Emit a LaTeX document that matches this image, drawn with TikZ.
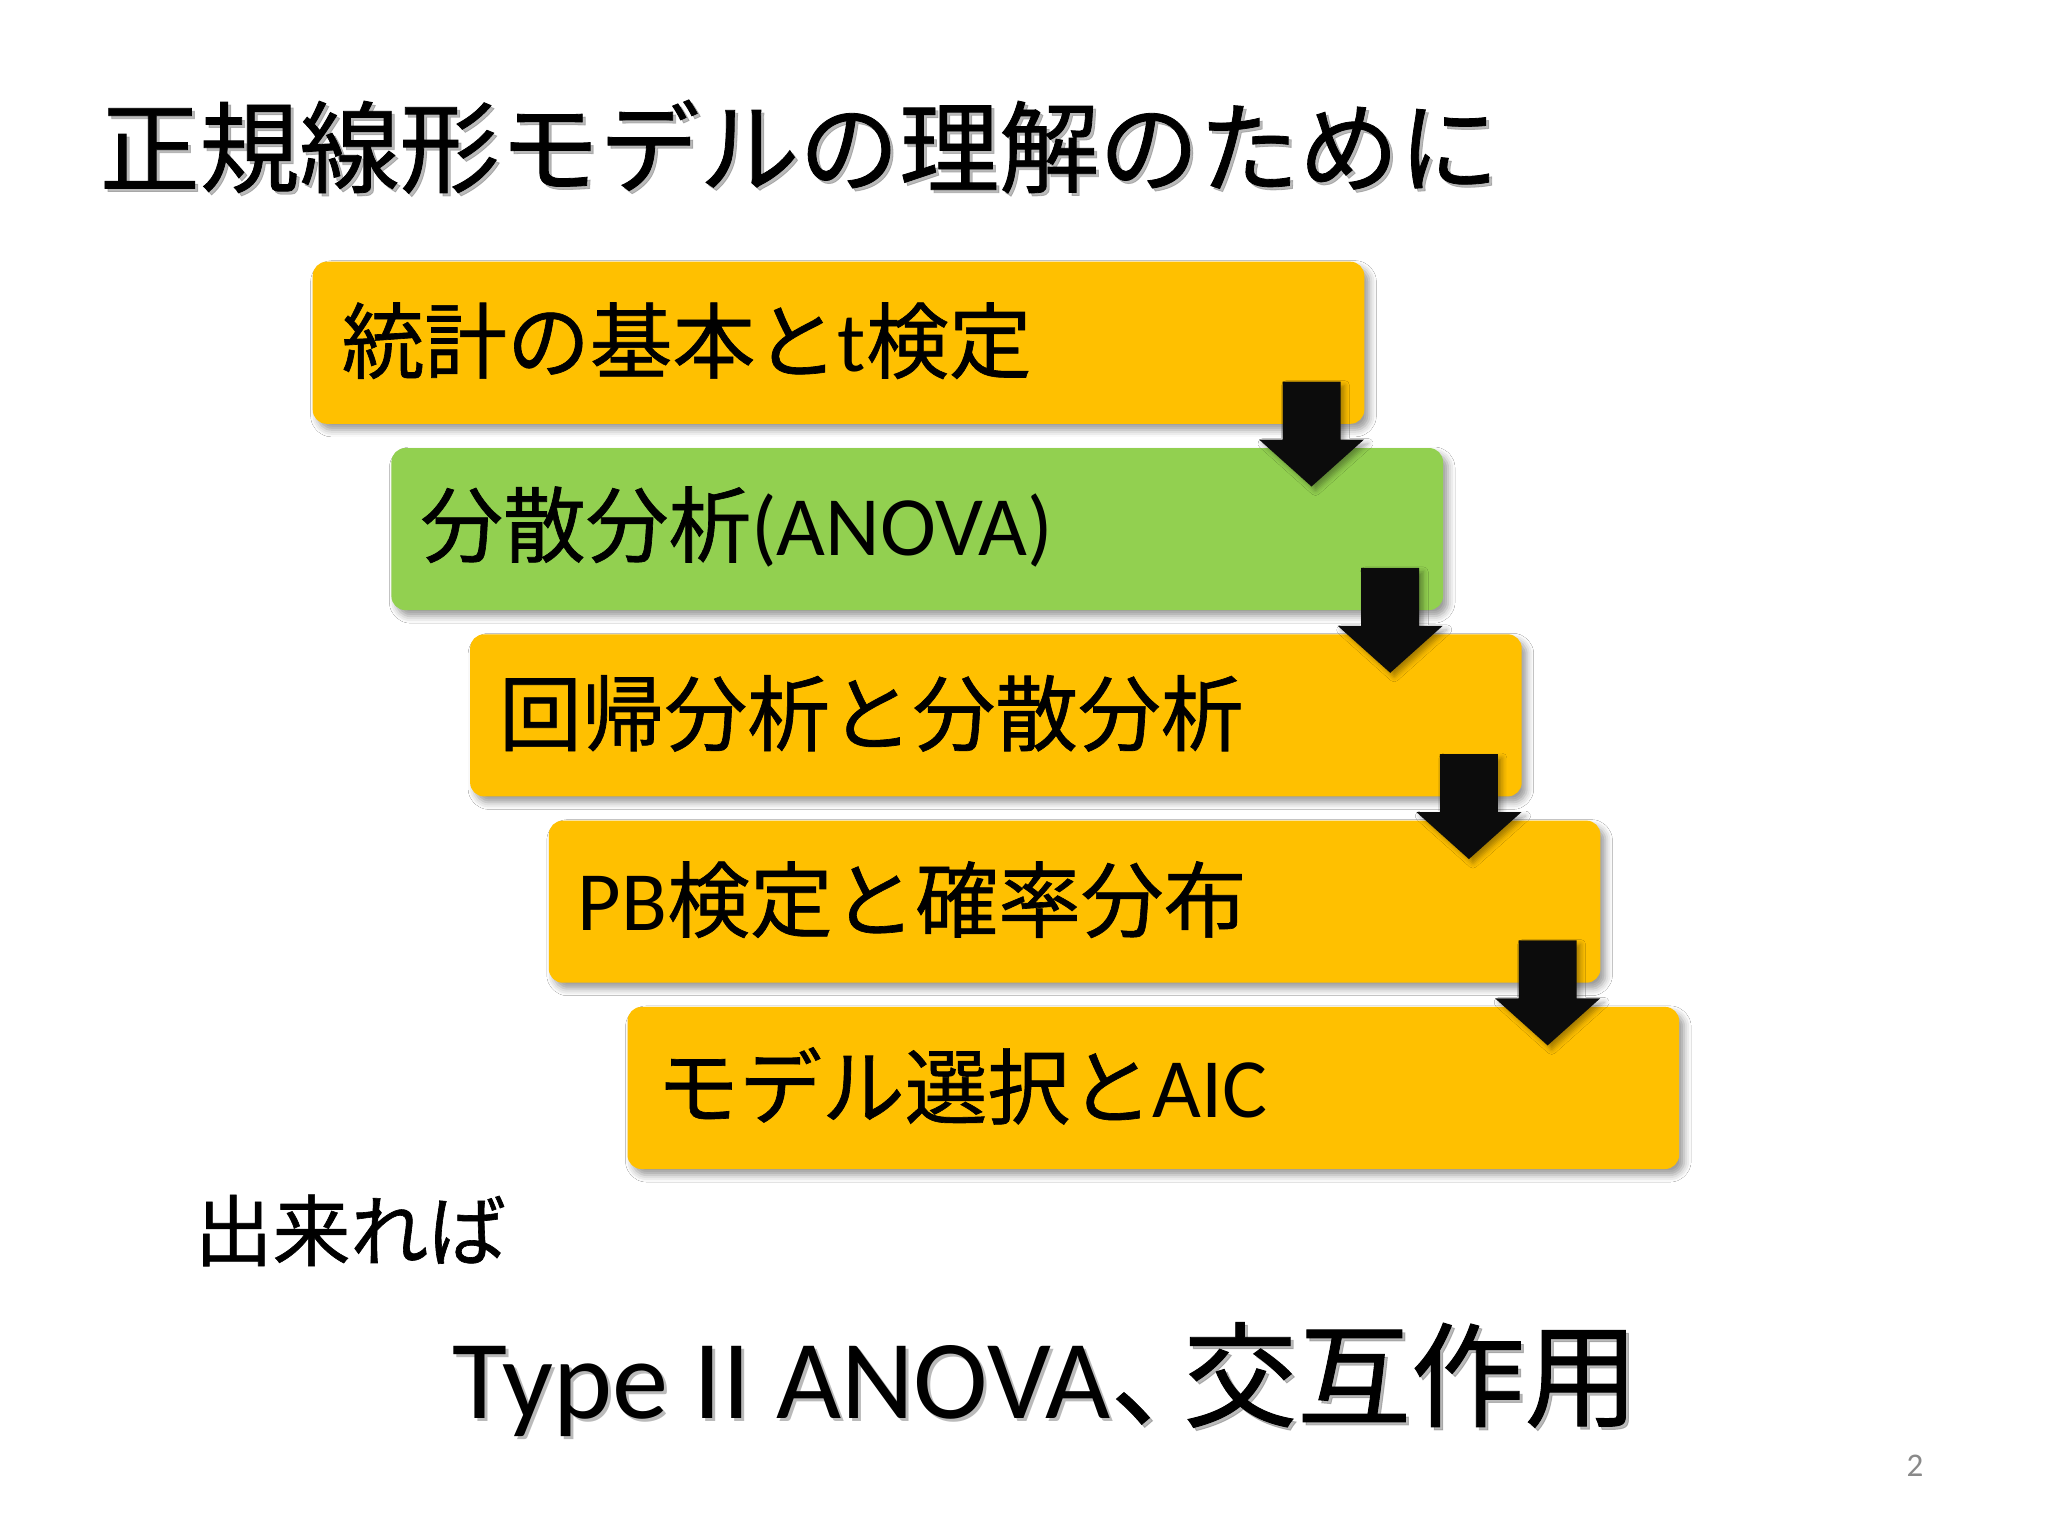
\documentclass[tikz,border=0pt]{standalone}
\usepackage{fontspec}
\setmainfont{Carlito}
\newfontfamily\jp{Noto Sans CJK JP}[FakeBold=0.8, Scale=0.98]
\usetikzlibrary{shadows.blur,calc}
\definecolor{boxorange}{HTML}{FFC000}
\definecolor{boxgreen}{HTML}{92D050}
\definecolor{arrowblack}{HTML}{0C0C0C}
\definecolor{pagegray}{HTML}{898989}
\tikzset{
  stepbox/.style={anchor=north west, minimum width=10.51cm, minimum height=1.62cm,
    rounded corners=0.14cm, inner sep=0pt,
    blur shadow={shadow xshift=0.05cm, shadow yshift=-0.06cm, shadow blur radius=0.07cm, shadow opacity=40}},
  boxtext/.style={anchor=west, inner sep=0pt, font=\fontsize{24pt}{28pt}\selectfont},
  titletext/.style={anchor=base west, inner sep=0pt, font=\fontsize{29pt}{34pt}\selectfont\jp},
  bigtext/.style={anchor=base west, inner sep=0pt, font=\fontsize{32pt}{38pt}\selectfont},
  shadowtext/.style={text=black!45, opacity=0.6},
  pics/downarrow/.style={code={
    \fill[arrowblack, blur shadow={shadow xshift=0.04cm, shadow yshift=-0.04cm, shadow blur radius=0.05cm, shadow opacity=35}]
      (-29,-43) -- (29,-43) -- (29,15) -- (52.5,15) -- (0,62) -- (-52.5,15) -- (-29,15) -- cycle;}}
}
\newcommand{\bottomline}{Type II ANOVA{\fontsize{33pt}{38pt}\selectfont\jp 、\hspace{-0.36em}交互作用}}
\begin{document}
\begin{tikzpicture}[x=0.01cm,y=-0.01cm]
\useasboundingbox[fill=white] (0,0) rectangle (2048,1536);

% title
\node[titletext, shadowtext] (titleshadow) at (102,188) {正規線形モデルの理解のために};
\node[titletext] (title) at (99,185) {正規線形モデルの理解のために};

% boxes
\node[stepbox, fill=boxorange] (b1) at (312,261) {};
\node[stepbox, fill=boxgreen]  (b2) at (390.7,447.3) {};
\node[stepbox, fill=boxorange] (b3) at (469.4,633.6) {};
\node[stepbox, fill=boxorange] (b4) at (548.1,819.9) {};
\node[stepbox, fill=boxorange] (b5) at (626.8,1006.2) {};

\node[boxtext] (t1) at ($(b1.west)+(29,-2)$) {{\jp 統計の基本と}t{\jp 検定}};
\node[boxtext] (t2) at ($(b2.west)+(29,-2)$) {{\jp 分散分析}(ANOVA)};
\node[boxtext] (t3) at ($(b3.west)+(29,-2)$) {{\jp 回帰分析と分散分析}};
\node[boxtext] (t4) at ($(b4.west)+(29,-2)$) {PB{\jp 検定と確率分布}};
\node[boxtext] (t5) at ($(b5.west)+(29,-2)$) {{\jp モデル選択と}AIC};

% arrows
\pic at ($(b1.south east)+(-53.5,0)$) {downarrow};
\pic at ($(b2.south east)+(-53.5,0)$) {downarrow};
\pic at ($(b3.south east)+(-53.5,0)$) {downarrow};
\pic at ($(b4.south east)+(-53.5,0)$) {downarrow};

% bottom texts
\node[anchor=base west, inner sep=0pt, font=\fontsize{22.6pt}{27pt}\selectfont\jp] (maybe) at (194,1260) {出来れば};
\node[bigtext, shadowtext] (bottomshadow) at (455,1421) {\bottomline};
\node[bigtext] (bottom) at (452,1418) {\bottomline};

% page number
\node[anchor=base, inner sep=0pt, text=pagegray, font=\fontsize{9.4pt}{11pt}\selectfont] (page) at (1915,1476) {2};
\end{tikzpicture}
\end{document}
